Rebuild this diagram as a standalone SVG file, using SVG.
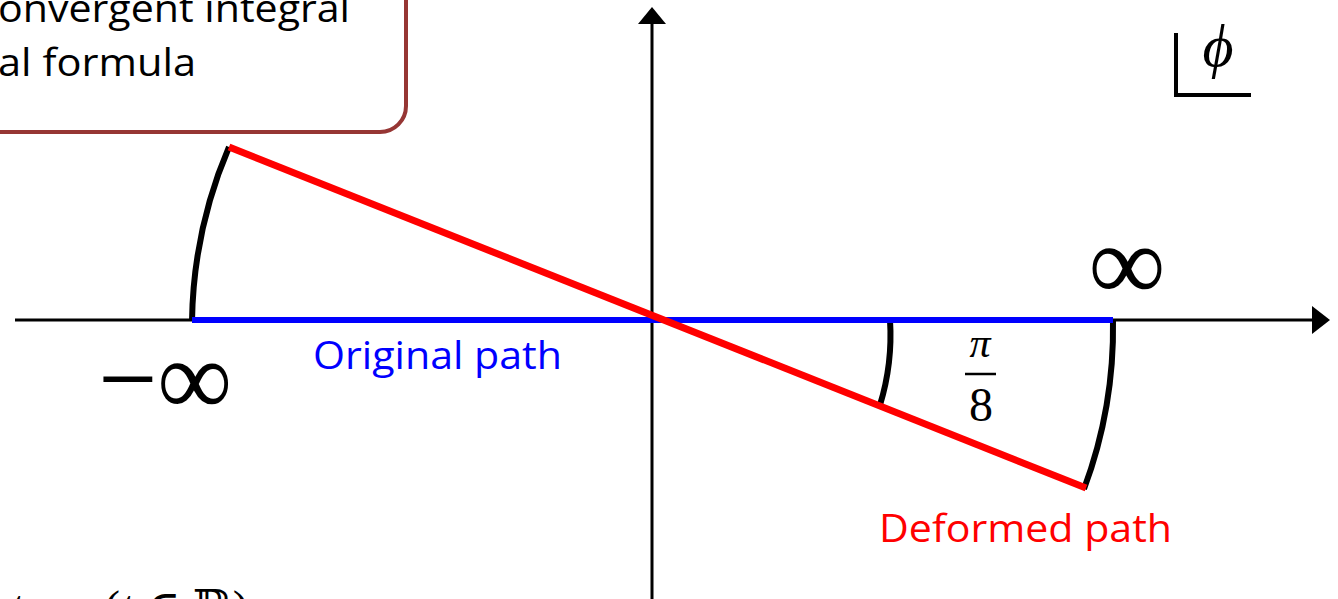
<svg xmlns="http://www.w3.org/2000/svg" width="1338" height="599" viewBox="0 0 1338 599">
<style>
.axis{stroke:#000;stroke-width:3;fill:none}
.arc{stroke:#000;stroke-width:6;fill:none}
.lbl{font-family:"Open Sans","Liberation Sans",sans-serif;font-size:38px}
.math{font-family:"Liberation Serif","DejaVu Serif",serif;fill:#000}
</style>
<rect width="1338" height="599" fill="#fff"/>
<g id="callout">
<rect x="-40" y="-60" width="446" height="192" rx="26" ry="26" fill="#fff" stroke="#963634" stroke-width="4"/>
<text class="lbl" x="-2" y="22" font-size="42" fill="#000" textLength="352" lengthAdjust="spacingAndGlyphs">onvergent integral</text>
<text class="lbl" x="-2" y="76" font-size="42" fill="#000" textLength="198" lengthAdjust="spacingAndGlyphs">al formula</text>
</g>
<g id="connectors">
<line class="axis" x1="15" y1="320" x2="1314" y2="320"/>
<polygon points="1330,320 1312,306 1312,334" fill="#000"/>
<line class="axis" x1="652" y1="599" x2="652" y2="22"/>
<polygon points="652,7 638,24 666,24" fill="#000"/>
</g>
<g id="arcs">
<path class="arc" d="M192,321 A460,460 0 0 1 229,147"/>
<path class="arc" d="M1113,320 A461,461 0 0 1 1084,489"/>
<path class="arc" d="M890,320 A238,238 0 0 1 880,405"/>
</g>
<g id="original-path">
<line x1="192" y1="320" x2="1113" y2="320" stroke="#0000ff" stroke-width="6"/>
<text class="lbl" x="313" y="369" fill="#0000ff" textLength="249" lengthAdjust="spacingAndGlyphs">Original path</text>
</g>
<g id="deformed-path">
<line x1="229" y1="147" x2="1086" y2="488" stroke="#ff0000" stroke-width="7"/>
<text class="lbl" x="879" y="542" fill="#ff0000" textLength="293" lengthAdjust="spacingAndGlyphs">Deformed path</text>
</g>
<g id="labels">
<text class="math" x="1127" y="300" font-size="108" text-anchor="middle">∞</text>
<text class="math" x="98" y="415" font-size="108" textLength="134" lengthAdjust="spacingAndGlyphs">−∞</text>
<text class="math" x="980" y="357" font-size="42" font-style="italic" text-anchor="middle">π</text>
<line x1="965" y1="374" x2="996" y2="374" stroke="#000" stroke-width="2.5"/>
<text class="math" x="981" y="421" font-size="48" text-anchor="middle">8</text>
</g>
<g id="phi-label">
<polyline points="1176,33 1176,95 1251,95" fill="none" stroke="#000" stroke-width="4"/>
<text class="math" x="1218" y="66" font-size="60" font-style="italic" text-anchor="middle">ϕ</text>
</g>
<g id="bottom-formula">
<text class="math" x="10" y="624" font-size="48" font-style="italic">t</text>
<text class="math" x="104" y="624" font-size="48">(<tspan font-style="italic">t</tspan> ∈ ℝ)</text>
</g>
</svg>
